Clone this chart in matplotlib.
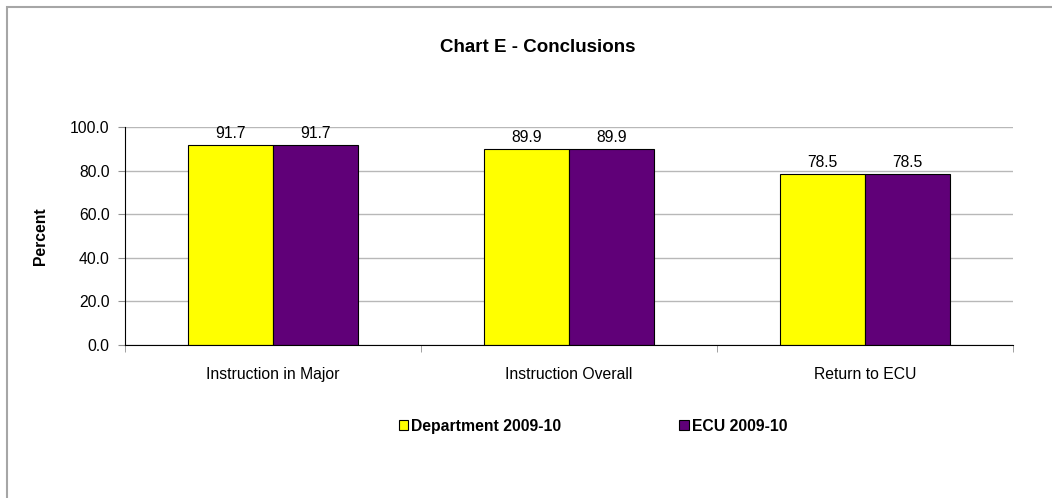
import numpy as np
import matplotlib
matplotlib.use("Agg")
import matplotlib.pyplot as plt
from matplotlib.patches import Rectangle

plt.rcParams['font.family'] = ['Liberation Sans', 'DejaVu Sans']

# data
categories = ["Instruction in Major", "Instruction Overall", "Return to ECU"]
dept = [91.7, 89.9, 78.5]
ecu = [91.7, 89.9, 78.5]
series_names = ["Department 2009-10", "ECU 2009-10"]
yticks = [0, 20, 40, 60, 80, 100]

fs = 11.3

fig = plt.figure(figsize=(10.52, 4.98), dpi=100)
ax = fig.add_axes([125/1052, 1-345/498, (1013-125)/1052, (345-127)/498])

x = np.arange(len(categories))
w = 0.287
b1 = ax.bar(x - w/2, dept, w, color="#FFFF00", edgecolor="black", linewidth=0.8, label=series_names[0])
b2 = ax.bar(x + w/2, ecu, w, color="#600078", edgecolor="black", linewidth=0.8, label=series_names[1])
ax.bar_label(b1, fmt="%.1f", padding=3, fontsize=fs)
ax.bar_label(b2, fmt="%.1f", padding=3, fontsize=fs)

ax.set_xlim(-0.5, len(categories) - 0.5)
ax.set_ylim(0, 100)
ax.set_yticks(yticks)
ax.set_yticklabels(["%.1f" % v for v in yticks], fontsize=fs)
ax.yaxis.grid(True, color="#b8b8b8", linewidth=1)
ax.set_axisbelow(True)

# category labels between ticks
ax.set_xticks(x)
ax.set_xticklabels(categories, fontsize=fs)
ax.tick_params(axis="x", length=0, pad=16)
ax.set_xticks(np.arange(len(categories) + 1) - 0.5, minor=True)
ax.tick_params(axis="x", which="minor", length=5, color="#909090")
ax.tick_params(axis="y", length=5, color="#909090", pad=6)

for s in ["top", "right"]:
    ax.spines[s].set_visible(False)
ax.spines["left"].set_color("black")
ax.spines["bottom"].set_color("black")

ax.set_ylabel("Percent", fontsize=fs, fontweight="bold", labelpad=16)

fig.text(538/1052, 1-48/498, "Chart E - Conclusions", fontsize=13.5, fontweight="bold",
         ha="center", va="center")

leg = fig.legend(loc="center", bbox_to_anchor=(593/1052, 1-426/498), ncol=2, frameon=False,
                 prop={"weight": "bold", "size": fs}, handlelength=0.6, handleheight=0.6,
                 handletextpad=0.2, columnspacing=7.5)

fig.patches.append(Rectangle((7/1052, -0.1), 1.2, 1.1 - 7/498, transform=fig.transFigure,
                             fill=False, edgecolor="#a6a6a6", linewidth=1.5))

fig.savefig("out.png", dpi=100)
